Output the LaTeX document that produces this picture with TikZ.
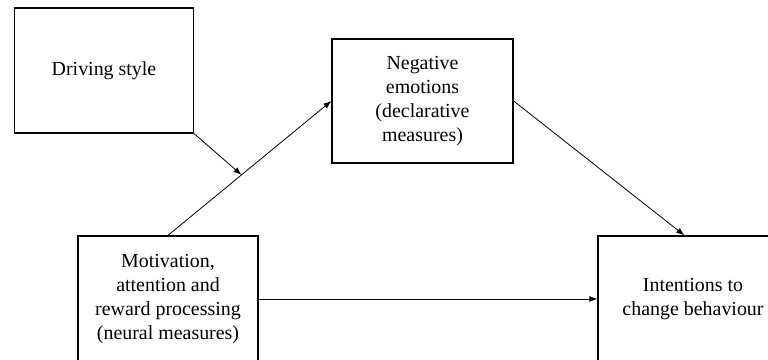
\documentclass[tikz,border=0pt]{standalone}
\usepackage{fontspec}
\setmainfont{Liberation Serif}
\usetikzlibrary{arrows.meta,shapes}

\begin{document}
\begin{tikzpicture}[>={Latex[length=8bp,width=6bp]}]
\tikzset{box/.style={draw,line width=1.3bp,align=center,font=\fontsize{20}{24.4}\selectfont}}
\useasboundingbox (0bp,0bp) rectangle (768bp,-360bp);

\node (DS) at (104bp,-70.5bp)[box,minimum width=179bp,minimum height=125bp] {Driving style};
\node (NE) at (422.5bp,-101bp)[box,minimum width=181bp,minimum height=124bp] {Negative\\emotions\\(declarative\\measures)};
\node (MA) at (168bp,-299bp)[box,minimum width=180bp,minimum height=126bp] {Motivation,\\attention and\\reward processing\\(neural measures)};
\node (IC) at (693bp,-299bp)[box,minimum width=190bp,minimum height=126bp] {Intentions to\\change behaviour};
\draw [->,line width=0.8bp] (MA.north) -- (NE.west) coordinate[pos=0.45] (MOD);
\draw [->,line width=0.8bp] (DS.south east) -- (MOD);
\draw [->,line width=0.8bp] (NE.east) -- ([xshift=87bp]IC.north west);
\draw [->,line width=0.8bp] (MA.east) -- (IC.west);
\end{tikzpicture}
\end{document}
